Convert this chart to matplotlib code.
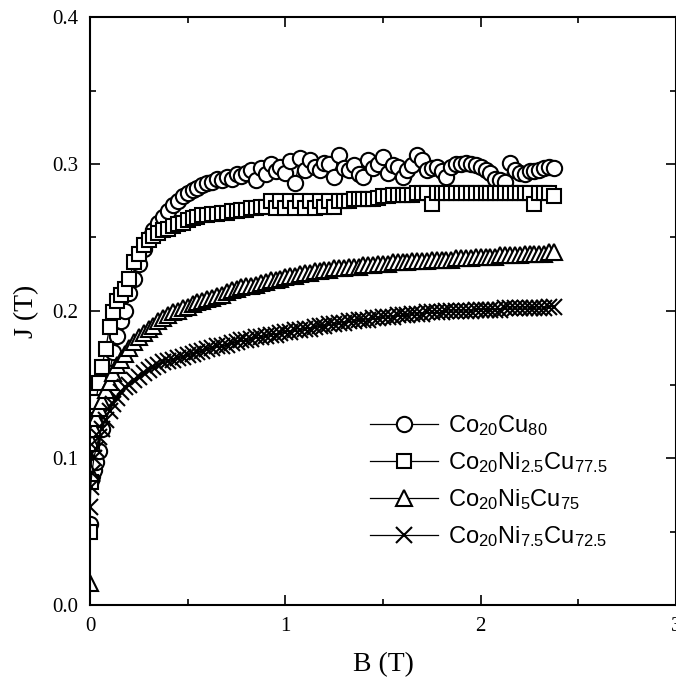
import matplotlib
matplotlib.use('Agg')
import matplotlib.pyplot as plt
from matplotlib.ticker import MultipleLocator, FormatStrFormatter

# applied field B (T), same steps for every sample
B = [0.000, 0.003, 0.010, 0.020, 0.030, 0.045, 0.060, 0.080, 0.100, 0.120,
     0.140, 0.160, 0.180, 0.200, 0.225, 0.250, 0.275, 0.300, 0.325, 0.350,
     0.375, 0.400, 0.425, 0.450, 0.475, 0.500, 0.525, 0.550, 0.575, 0.600,
     0.625, 0.650, 0.675, 0.700, 0.725, 0.750, 0.775, 0.800, 0.825, 0.850,
     0.875, 0.900, 0.925, 0.950, 0.975, 1.000, 1.025, 1.050, 1.075, 1.100,
     1.125, 1.150, 1.175, 1.200, 1.225, 1.250, 1.275, 1.300, 1.325, 1.350,
     1.375, 1.400, 1.425, 1.450, 1.475, 1.500, 1.525, 1.550, 1.575, 1.600,
     1.625, 1.650, 1.675, 1.700, 1.725, 1.750, 1.775, 1.800, 1.825, 1.850,
     1.875, 1.900, 1.925, 1.950, 1.975, 2.000, 2.025, 2.050, 2.075, 2.100,
     2.125, 2.150, 2.175, 2.200, 2.225, 2.250, 2.275, 2.300, 2.325, 2.350,
     2.375]

# J (T) for each alloy
J_cu80 = [0.055, 0.085, 0.088, 0.092, 0.097, 0.105, 0.120, 0.140, 0.158, 0.172,
          0.183, 0.193, 0.200, 0.212, 0.222, 0.232, 0.242, 0.250, 0.255, 0.260,
          0.264, 0.268, 0.272, 0.275, 0.278, 0.280, 0.282, 0.284, 0.286, 0.287,
          0.288, 0.290, 0.289, 0.291, 0.290, 0.293, 0.292, 0.294, 0.296, 0.289,
          0.297, 0.293, 0.300, 0.295, 0.298, 0.294, 0.302, 0.287, 0.304, 0.296,
          0.303, 0.298, 0.296, 0.301, 0.300, 0.291, 0.306, 0.297, 0.296, 0.299,
          0.293, 0.291, 0.303, 0.297, 0.300, 0.305, 0.294, 0.299, 0.298, 0.291,
          0.296, 0.299, 0.306, 0.303, 0.296, 0.297, 0.298, 0.295, 0.291, 0.298,
          0.300, 0.300, 0.301, 0.300, 0.299, 0.298, 0.296, 0.294, 0.290, 0.289,
          0.288, 0.301, 0.296, 0.294, 0.293, 0.295, 0.295, 0.296, 0.297, 0.298,
          0.297]

J_ni25 = [0.050, 0.084, 0.110, 0.126, 0.138, 0.151, 0.162, 0.174, 0.189, 0.199,
          0.207, 0.211, 0.215, 0.222, 0.233, 0.239, 0.245, 0.248, 0.251, 0.253,
          0.255, 0.256, 0.258, 0.259, 0.260, 0.262, 0.263, 0.264, 0.265, 0.265,
          0.266, 0.266, 0.267, 0.267, 0.268, 0.268, 0.269, 0.269, 0.270, 0.270,
          0.271, 0.271, 0.275, 0.270, 0.275, 0.270, 0.275, 0.270, 0.275, 0.270,
          0.275, 0.270, 0.275, 0.271, 0.275, 0.271, 0.275, 0.275, 0.275, 0.276,
          0.276, 0.276, 0.276, 0.276, 0.277, 0.278, 0.278, 0.279, 0.279, 0.279,
          0.279, 0.279, 0.280, 0.280, 0.280, 0.273, 0.280, 0.280, 0.280, 0.280,
          0.280, 0.280, 0.280, 0.280, 0.280, 0.280, 0.280, 0.280, 0.280, 0.280,
          0.280, 0.280, 0.280, 0.280, 0.280, 0.280, 0.273, 0.280, 0.280, 0.280,
          0.278]

J_ni5 = [0.015, 0.090, 0.110, 0.120, 0.127, 0.134, 0.139, 0.146, 0.152, 0.158,
         0.163, 0.167, 0.171, 0.175, 0.179, 0.182, 0.185, 0.188, 0.190, 0.193,
         0.195, 0.197, 0.199, 0.200, 0.202, 0.203, 0.205, 0.206, 0.207, 0.208,
         0.209, 0.210, 0.211, 0.213, 0.214, 0.215, 0.216, 0.217, 0.217, 0.218,
         0.219, 0.220, 0.221, 0.221, 0.222, 0.223, 0.224, 0.224, 0.225, 0.226,
         0.226, 0.227, 0.227, 0.228, 0.228, 0.229, 0.229, 0.229, 0.230, 0.230,
         0.230, 0.231, 0.231, 0.231, 0.232, 0.232, 0.232, 0.233, 0.233, 0.233,
         0.233, 0.234, 0.234, 0.234, 0.234, 0.235, 0.235, 0.235, 0.235, 0.235,
         0.236, 0.236, 0.236, 0.236, 0.237, 0.237, 0.237, 0.237, 0.237, 0.238,
         0.238, 0.238, 0.238, 0.238, 0.239, 0.239, 0.239, 0.239, 0.239, 0.240,
         0.240]

J_ni75 = [0.067, 0.080, 0.090, 0.100, 0.106, 0.114, 0.120, 0.126, 0.132, 0.137,
          0.141, 0.145, 0.148, 0.150, 0.153, 0.155, 0.158, 0.160, 0.162, 0.163,
          0.165, 0.166, 0.167, 0.168, 0.169, 0.170, 0.171, 0.172, 0.173, 0.174,
          0.175, 0.176, 0.176, 0.177, 0.178, 0.179, 0.180, 0.180, 0.181, 0.182,
          0.182, 0.183, 0.184, 0.184, 0.185, 0.186, 0.186, 0.187, 0.187, 0.188,
          0.188, 0.189, 0.190, 0.190, 0.191, 0.191, 0.192, 0.192, 0.193, 0.193,
          0.194, 0.194, 0.194, 0.195, 0.195, 0.196, 0.196, 0.196, 0.197, 0.197,
          0.197, 0.198, 0.198, 0.198, 0.199, 0.199, 0.199, 0.199, 0.200, 0.200,
          0.200, 0.200, 0.200, 0.200, 0.201, 0.201, 0.201, 0.201, 0.201, 0.201,
          0.202, 0.202, 0.202, 0.202, 0.202, 0.202, 0.202, 0.202, 0.202, 0.203,
          0.203]

labels = [r'Co$_{20}$Cu$_{80}$',
          r'Co$_{20}$Ni$_{2.5}$Cu$_{77.5}$',
          r'Co$_{20}$Ni$_{5}$Cu$_{75}$',
          r'Co$_{20}$Ni$_{7.5}$Cu$_{72.5}$']
markers = ['o', 's', '^', 'x']
series = [J_cu80, J_ni25, J_ni5, J_ni75]

plt.rcParams['font.family'] = ['Liberation Serif', 'DejaVu Serif']
plt.rcParams['mathtext.fontset'] = 'custom'
plt.rcParams['mathtext.rm'] = 'Liberation Sans'
plt.rcParams['mathtext.default'] = 'rm'

fig = plt.figure(figsize=(6.76, 6.85), dpi=100)
ax = fig.add_axes([90/676, 80/685, 586/676, 588/685])

for J, m, lab in zip(series, markers, labels):
    ax.plot(B, J, color='black', lw=0.9, marker=m, ms=11 if m != 's' else 10,
            mfc='white', mec='black', mew=1.5, label=lab)

ax.set_xlim(0, 3)
ax.set_ylim(0, 0.4)
ax.xaxis.set_major_locator(MultipleLocator(1))
ax.xaxis.set_minor_locator(MultipleLocator(0.5))
ax.yaxis.set_major_locator(MultipleLocator(0.1))
ax.yaxis.set_minor_locator(MultipleLocator(0.05))
ax.yaxis.set_major_formatter(FormatStrFormatter('%.1f'))

ax.tick_params(which='both', direction='in', top=True, right=True,
               labelsize=15, width=1.2, pad=8.5)
ax.tick_params(which='major', length=7)
ax.tick_params(which='minor', length=4.5)
for s in ax.spines.values():
    s.set_linewidth(1.5)

ax.set_xlabel('B (T)', fontsize=20, labelpad=12)
ax.set_ylabel('J (T)', fontsize=20, labelpad=9)

leg = ax.legend(loc='upper left', bbox_to_anchor=((370-90)/586, (605-413)/588),
                frameon=False, borderaxespad=0, borderpad=0,
                prop={'family': 'Liberation Sans', 'size': 17},
                handlelength=2.9, handletextpad=0.4, labelspacing=0.52)

fig.savefig('out.png', dpi=100)
